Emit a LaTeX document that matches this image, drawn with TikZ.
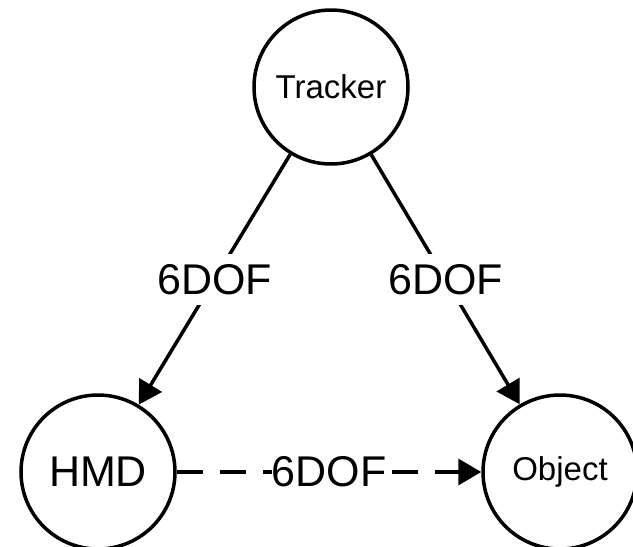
\documentclass[tikz,border=0pt]{standalone}
\usepackage{fontspec}
\setmainfont{Liberation Sans}
\usetikzlibrary{arrows.meta}
\begin{document}
\begin{tikzpicture}[x=1pt,y=-1pt,
  state/.style={circle,draw,line width=3.5pt,minimum size=154pt,inner sep=0pt},
  bigtxt/.style={font=\fontsize{43}{43}\selectfont},
  smalltxt/.style={font=\fontsize{33}{33}\selectfont},
  link/.style={line width=3.5pt,-{Triangle[length=23pt,width=26pt]}},
  lbl/.style={fill=white,draw=none,inner xsep=0pt,inner ysep=10pt,font=\fontsize{43}{43}\selectfont}]
\useasboundingbox (0,0) rectangle (633,547);
\clip (0,0) rectangle (633,547);
\node[state,smalltxt] (tracker) at (331,87) {Tracker};
\node[state,bigtxt] (hmd) at (98,472) {HMD};
\node[state,smalltxt] (object) at (560,472) {Object};
% connectors, then their labels on top
\draw[link] (tracker) -- (hmd) coordinate[pos=0.5] (m1);
\draw[link] (tracker) -- (object) coordinate[pos=0.5] (m2);
\draw[link,dash pattern=on 26pt off 17pt] (hmd) -- (object) coordinate[pos=0.5] (m3);
\node[lbl] (l1) at (m1) {6DOF};
\node[lbl] (l2) at (m2) {6DOF};
\node[lbl] (l3) at (m3) {6DOF};
\end{tikzpicture}
\end{document}
